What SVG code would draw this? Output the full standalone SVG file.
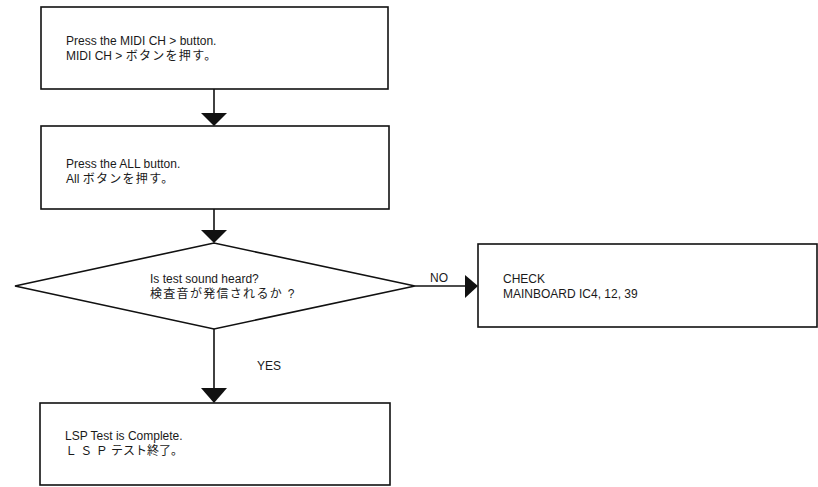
<svg xmlns="http://www.w3.org/2000/svg" width="818" height="487" viewBox="0 0 818 487">
  <style>
    .box { fill: #ffffff; stroke: #111111; stroke-width: 1.6; }
    .line { fill: none; stroke: #111111; stroke-width: 1.6; }
    .head { fill: #111111; stroke: none; }
    text { font-family: "Liberation Sans", Arial, "Noto Sans CJK JP", sans-serif; font-size: 12px; fill: #1a1a1a; }
    .jp { letter-spacing: 1.3px; }
  </style>
  <rect width="818" height="487" fill="#ffffff"/>

  <g id="connectors">
    <line class="line" x1="214" y1="89" x2="214" y2="114"/>
    <polygon class="head" points="201,113 227,113 214,126"/>
    <line class="line" x1="214" y1="209" x2="214" y2="231"/>
    <polygon class="head" points="201,230 227,230 214,243"/>
    <line class="line" x1="415" y1="286" x2="466" y2="286"/>
    <polygon class="head" points="465,275 465,298 478,286"/>
    <line class="line" x1="214" y1="329" x2="214" y2="389"/>
    <polygon class="head" points="201,388 227,388 214,403"/>
    <text x="430" y="282">NO</text>
    <text x="257" y="370">YES</text>
  </g>

  <g id="step-midi-ch">
    <rect class="box" x="41" y="7" width="347" height="82"/>
    <text x="66" y="45">Press the MIDI CH &gt; button.</text>
    <text x="66" y="60">MIDI CH &gt; <tspan class="jp">ボタンを押す。</tspan></text>
  </g>

  <g id="step-all">
    <rect class="box" x="41" y="126" width="348" height="83"/>
    <text x="66" y="168">Press the ALL button.</text>
    <text x="66" y="183">All <tspan class="jp">ボタンを押す。</tspan></text>
  </g>

  <g id="decision-sound">
    <polygon class="box" points="15,286 214,243 415,286 214,329"/>
    <text x="150" y="283">Is test sound heard?</text>
    <text class="jp" x="150" y="298">検査音が発信されるか ?</text>
  </g>

  <g id="check-mainboard">
    <rect class="box" x="478" y="244" width="339" height="83"/>
    <text x="503" y="283">CHECK</text>
    <text x="503" y="298">MAINBOARD IC4, 12, 39</text>
  </g>

  <g id="test-complete">
    <rect class="box" x="40" y="403" width="350" height="82"/>
    <text x="65" y="440">LSP Test is Complete.</text>
    <text x="65" y="455">Ｌ Ｓ Ｐ テスト終了。</text>
  </g>
</svg>
